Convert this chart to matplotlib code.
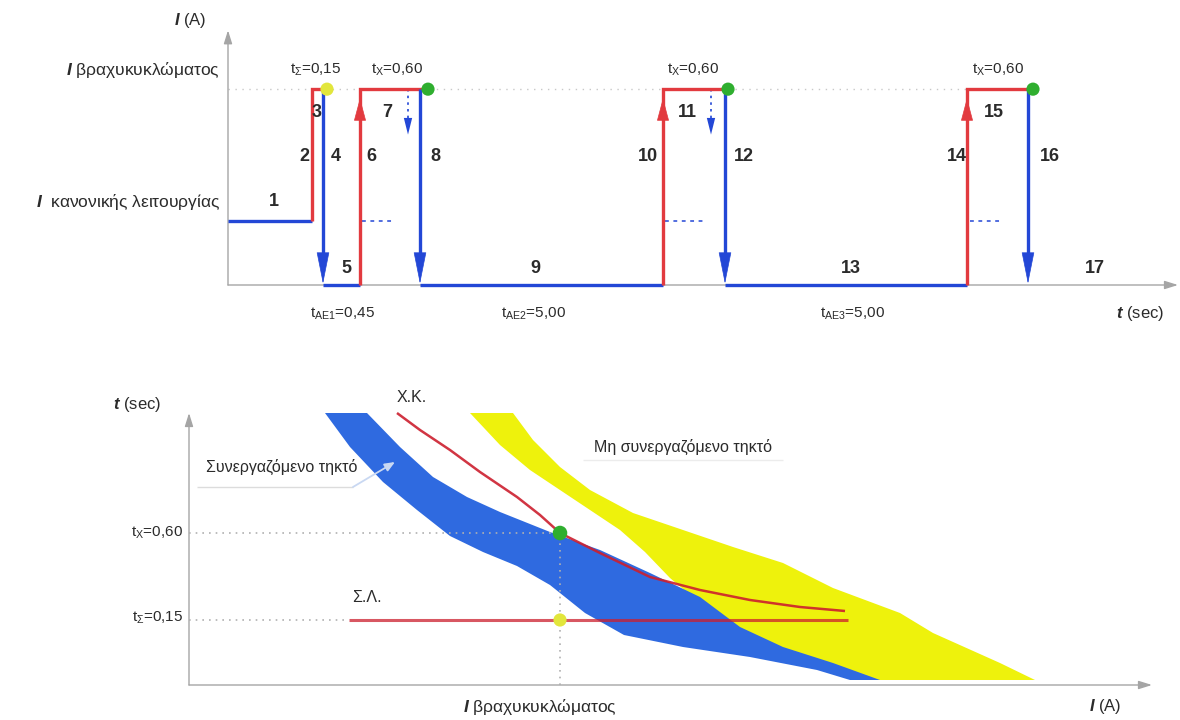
import matplotlib.pyplot as plt
from matplotlib.patches import Polygon

plt.rcParams['font.family'] = ['Liberation Sans', 'DejaVu Sans']
plt.rcParams['mathtext.fontset'] = 'custom'
plt.rcParams['mathtext.rm'] = 'Liberation Sans'
plt.rcParams['mathtext.it'] = 'Liberation Sans:italic'
plt.rcParams['mathtext.bf'] = 'Liberation Sans:bold'
plt.rcParams['mathtext.bfit'] = 'Liberation Sans:italic:bold'
plt.rcParams['lines.solid_capstyle'] = 'butt'

BLUE = '#2347d6'
RED = '#e23a3f'
BAND_BLUE = '#2f6ae0'
BAND_YELLOW = '#eef20c'
CURVE_RED = '#cc1f2e'
AXIS_GREY = '#a5a5a5'
TEXT = '#2b2b2b'
GREEN = '#2fae2f'
LIGHT_YELLOW = '#e2e63c'

# ---- top: current vs time (auto-reclose sequence) ----
I_NORMAL = 1.0
I_SHORT = 3.06
T_FAULT = 8.4
T_TRIP = [9.5, 19.2, 49.7, 80.0]
T_RECLOSE = [13.2, 43.5, 73.9]
T_DOT = [9.9, 20.0, 50.0, 80.5]
DOT_COLORS = [LIGHT_YELLOW, GREEN, GREEN, GREEN]
T_PROBE = [18.0, 48.3]
I_PROBE_END = 2.35
DASH_START = [13.4, 43.7, 74.2]
DASH_END = [16.5, 47.9, 77.2]
T_END = 95.0

SEG_LABELS = [str(i) for i in range(1, 18)]
SEG_X = [4.6, 7.6, 8.9, 10.8, 11.8, 14.3, 15.9, 20.7, 30.7, 42.0,
         45.9, 51.6, 62.3, 72.9, 76.6, 82.2, 86.7]
SEG_Y = [1.3, 2.0, 2.7, 2.0, 0.25, 2.0, 2.7, 2.0, 0.25, 2.0,
         2.7, 2.0, 0.25, 2.0, 2.7, 2.0, 0.25]

TOP_T_LABELS = [r't$_{\mathrm{Σ}}$=0,15', r't$_{\mathrm{Χ}}$=0,60',
                r't$_{\mathrm{Χ}}$=0,60', r't$_{\mathrm{Χ}}$=0,60']
TOP_T_X = [8.8, 16.9, 46.5, 77.0]
AE_LABELS = [r't$_{\mathrm{ΑΕ1}}$=0,45', r't$_{\mathrm{ΑΕ2}}$=5,00',
             r't$_{\mathrm{ΑΕ3}}$=5,00']
AE_X = [11.4, 30.5, 62.4]

# ---- bottom: time-current characteristics ----
BLUE_BAND_X = [13.6, 17.8, 21.1, 24.4, 27.8, 31.1, 36.1, 41.1, 46.1, 51.1,
               55.1, 59.4, 64.4, 69.1, 66.1, 62.8, 56.1, 49.4, 43.5, 39.6,
               36.1, 32.8, 29.4, 26.1, 22.8, 19.4, 16.1]
BLUE_BAND_Y = [27.2, 27.2, 23.8, 20.8, 18.8, 17.3, 15.3, 13.5, 11.2, 8.8,
               5.8, 3.8, 2.2, 0.5, 0.5, 1.5, 2.8, 3.8, 5.0, 7.2,
               10.0, 11.9, 13.3, 14.9, 17.5, 20.3, 23.8]
YELLOW_BAND_X = [28.1, 32.4, 34.4, 37.1, 40.1, 44.4, 49.4, 54.4, 59.4, 64.4,
                 71.1, 74.4, 81.1, 84.6, 67.1, 61.1, 53.1, 48.1, 45.6, 43.1,
                 40.1, 37.1, 34.1, 31.1]
YELLOW_BAND_Y = [27.2, 27.2, 24.5, 21.8, 19.5, 17.2, 15.5, 13.8, 12.2, 9.7,
                 7.2, 5.2, 2.2, 0.5, 0.5, 2.5, 6.5, 10.7, 13.3, 15.5,
                 17.5, 19.5, 21.5, 24.0]
XK_X = [20.8, 23.1, 26.1, 29.1, 32.8, 35.1, 37.1, 41.1, 46.1, 51.1, 56.1, 61.1, 65.6]
XK_Y = [27.2, 25.5, 23.5, 21.3, 18.8, 17.0, 15.2, 13.2, 10.8, 9.5, 8.5, 7.8, 7.4]
SL_X = [16.0, 65.9]
T_X_LEVEL = 15.2
T_SIGMA_LEVEL = 6.5
I_SC = 37.1

fig = plt.figure(figsize=(11.8, 7.2), dpi=100)
W, H = 1180, 720


def head(ax, x, y_tip, y_from, color, length, width, lw=0, z=5):
    ax.annotate('', xy=(x, y_tip), xytext=(x, y_from),
                arrowprops=dict(arrowstyle=f'-|>,head_length={length},head_width={width}',
                                color=color, lw=lw, shrinkA=0, shrinkB=0,
                                mutation_scale=10), zorder=z, annotation_clip=False)


def axis_arrow(ax, x1, y1):
    ax.annotate('', xy=(x1, y1), xytext=(0, 0),
                arrowprops=dict(arrowstyle='-|>,head_length=0.8,head_width=0.25',
                                color=AXIS_GREY, lw=1, shrinkA=0, shrinkB=0),
                annotation_clip=False)


# ============ top panel ============
ax = fig.add_axes([228 / W, 1 - 285 / H, 952 / W, 265 / H])
ax.set_xlim(0, 95.2)
ax.set_ylim(0, 265 / 64)
ax.axis('off')

axis_arrow(ax, 0, 3.98)
axis_arrow(ax, T_END, 0)
ax.plot([0, T_TRIP[-1]], [I_SHORT, I_SHORT], ls=(0, (1, 4)), color='#c8c8c8', lw=1, zorder=1)

# normal operation, then the fault
ax.plot([0, T_FAULT], [I_NORMAL, I_NORMAL], color=BLUE, lw=2.4, zorder=3, clip_on=False)
ax.plot([T_FAULT, T_FAULT, T_TRIP[0] + 0.15], [I_NORMAL, I_SHORT, I_SHORT],
        color=RED, lw=2.4, zorder=3, solid_joinstyle='miter', clip_on=False)

# trips (blue, down)
for i, t in enumerate(T_TRIP):
    ax.plot([t, t], [I_SHORT, 0.45], color=BLUE, lw=2.4, zorder=4, clip_on=False)
    head(ax, t, 0.02, 0.6, BLUE, 2.1, 0.42, lw=0.5)
    if i < len(T_RECLOSE):
        ax.plot([t, T_RECLOSE[i]], [0, 0], color=BLUE, lw=2.4, zorder=3, clip_on=False)

# recloses (red, up)
for i, t in enumerate(T_RECLOSE):
    ax.plot([t, t, T_TRIP[i + 1] + 0.15], [0, I_SHORT, I_SHORT],
            color=RED, lw=2.4, zorder=3, solid_joinstyle='miter', clip_on=False)
    head(ax, t, 2.92, 2.5, RED, 1.5, 0.4, lw=0.5)
    ax.plot([DASH_START[i], DASH_END[i]], [I_NORMAL, I_NORMAL],
            ls=(0, (2.5, 3)), color=BLUE, lw=1.1, zorder=2)

# relay pick-up probes
for t in T_PROBE:
    ax.plot([t, t], [I_SHORT, I_PROBE_END + 0.2], ls=(0, (1.5, 2.5)), color=BLUE, lw=1.2, zorder=2)
    head(ax, t, I_PROBE_END, I_PROBE_END + 0.25, BLUE, 1.2, 0.3)

ax.scatter(T_DOT, [I_SHORT] * len(T_DOT), s=90, c=DOT_COLORS, zorder=6, edgecolors='none')

for lab, x, y in zip(SEG_LABELS, SEG_X, SEG_Y):
    ax.text(x, y, lab, ha='center', va='center', fontsize=13, fontweight='bold', color=TEXT)
for lab, x in zip(TOP_T_LABELS, TOP_T_X):
    ax.text(x, 3.36, lab, ha='center', va='center', fontsize=11, color=TEXT)
for lab, x in zip(AE_LABELS, AE_X):
    ax.text(x, -0.45, lab, ha='center', va='center', fontsize=11, color=TEXT, clip_on=False)

ax.text(91.2, -0.45, r'$\mathbfit{t}$ (sec)', ha='center', va='center', fontsize=12, color=TEXT)
ax.text(-2.2, 4.14, r'$\mathbfit{I}$ (A)', ha='right', va='center', fontsize=12, color=TEXT)
ax.text(-0.8, I_SHORT + 0.3, r'$\mathbfit{I}$ βραχυκυκλώματος', ha='right', va='center',
        fontsize=12.5, color=TEXT)
ax.text(-0.8, I_NORMAL + 0.3, r'$\mathbfit{I}$  κανονικής λειτουργίας', ha='right', va='center',
        fontsize=12.5, color=TEXT)

# ============ bottom panel ============
bx = fig.add_axes([189 / W, 1 - 685 / H, 981 / W, 285 / H])
bx.set_xlim(0, 98.1)
bx.set_ylim(0, 28.5)
bx.axis('off')

bx.add_patch(Polygon(list(zip(YELLOW_BAND_X, YELLOW_BAND_Y)), closed=True,
                     facecolor=BAND_YELLOW, edgecolor='none', zorder=1))
bx.add_patch(Polygon(list(zip(BLUE_BAND_X, BLUE_BAND_Y)), closed=True,
                     facecolor=BAND_BLUE, edgecolor='none', zorder=2))

axis_arrow(bx, 0, 27.2)
axis_arrow(bx, 96.3, 0)

# reference guides
bx.plot([0, I_SC], [T_X_LEVEL, T_X_LEVEL], ls=(0, (1, 3)), color='#b0b0b0', lw=1.2, zorder=3)
bx.plot([0, SL_X[0]], [T_SIGMA_LEVEL, T_SIGMA_LEVEL], ls=(0, (1, 3)), color='#b0b0b0', lw=1.2, zorder=3)
bx.plot([I_SC, I_SC], [0, T_X_LEVEL], ls=(0, (1, 3)), color='#b0b0b0', lw=1.2, zorder=3)

bx.plot(XK_X, XK_Y, color=CURVE_RED, lw=1.8, alpha=0.9, zorder=4)
bx.plot(SL_X, [T_SIGMA_LEVEL] * 2, color=CURVE_RED, lw=2.2, alpha=0.75, zorder=4)

bx.scatter([I_SC], [T_X_LEVEL], s=110, c=GREEN, zorder=6, edgecolors='none')
bx.scatter([I_SC], [T_SIGMA_LEVEL], s=90, c=LIGHT_YELLOW, zorder=6, edgecolors='none')

# label leaders
bx.plot([0.8, 16.4], [19.8, 19.8], color='#dcdcdc', lw=1, zorder=3)
bx.annotate('', xy=(20.6, 22.3), xytext=(16.4, 19.8),
            arrowprops=dict(arrowstyle='-|>,head_length=0.6,head_width=0.25',
                            color='#c9d8f2', lw=1.3, shrinkA=0, shrinkB=0), zorder=5)
bx.plot([39.4, 59.4], [22.5, 22.5], color='#ececec', lw=1, zorder=0)

bx.text(9.3, 21.8, 'Συνεργαζόμενο τηκτό', ha='center', va='center', fontsize=11.5, color=TEXT)
bx.text(49.4, 23.8, 'Μη συνεργαζόμενο τηκτό', ha='center', va='center', fontsize=11.5, color=TEXT)
bx.text(22.3, 28.7, 'Χ.Κ.', ha='center', va='center', fontsize=11.5, color=TEXT, clip_on=False)
bx.text(17.8, 8.7, 'Σ.Λ.', ha='center', va='center', fontsize=11.5, color=TEXT)
bx.text(-0.6, T_X_LEVEL, r't$_{\mathrm{Χ}}$=0,60', ha='right', va='center', fontsize=11, color=TEXT)
bx.text(-0.6, T_SIGMA_LEVEL + 0.2, r't$_{\mathrm{Σ}}$=0,15', ha='right', va='center',
        fontsize=11, color=TEXT)
bx.text(-5.2, 28.0, r'$\mathbfit{t}$ (sec)', ha='center', va='center', fontsize=12,
        color=TEXT, clip_on=False)
bx.text(35.1, -2.2, r'$\mathbfit{I}$ βραχυκυκλώματος', ha='center', va='center',
        fontsize=12.5, color=TEXT, clip_on=False)
bx.text(91.6, -2.2, r'$\mathbfit{I}$ (A)', ha='center', va='center', fontsize=12,
        color=TEXT, clip_on=False)

fig.savefig('out.png', dpi=100)
